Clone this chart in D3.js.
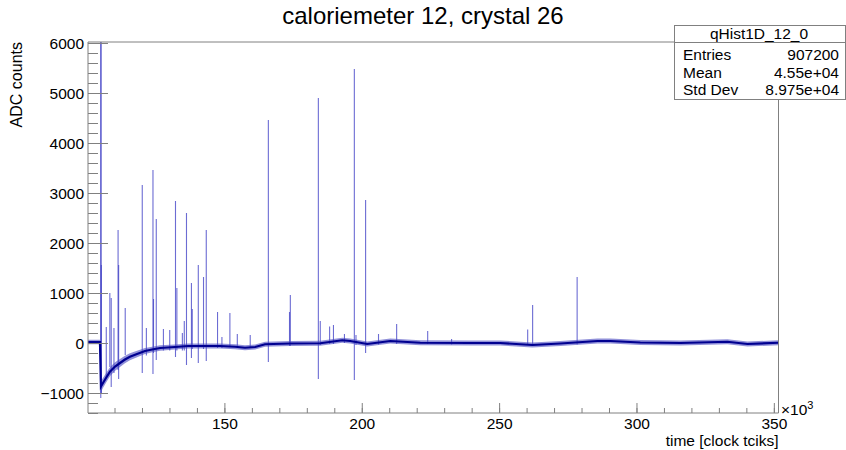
<!DOCTYPE html>
<html>
<head>
<meta charset="utf-8">
<script src="https://cdn.jsdelivr.net/npm/d3@7"></script>
<style>
  body { margin: 0; background: #fff; }
  svg { font-family: "Liberation Sans", Arial, sans-serif; }
</style>
</head>
<body>
<svg id="chart" width="846" height="450"></svg>
<script>
// axis ticks (time in units of 10^3 clock ticks)
var xMajor = [150, 200, 250, 300, 350];
var xMinor = d3.range(110, 351, 10);
var yMajor = [-1000, 0, 1000, 2000, 3000, 4000, 5000, 6000];
var yMinor = d3.range(-1400, 6001, 200);

// baseline of the histogram: time, centre, half band width
var baseX = [100.35, 104.7, 105.05, 105.8, 106.9, 108.4, 110.2, 112.0, 113.8, 115.6, 118.2, 121.1, 123.7, 126.6, 132.0, 136.8, 141.2, 148.4, 153.9, 157.5, 161.2, 164.8, 174.0, 184.9, 192.9, 195.8, 202.0, 210.4, 221.3, 239.5, 250.4, 262.1, 272.3, 285.8, 290.5, 301.4, 316.0, 333.1, 340.4, 351.7];
var baseY = [20, 20, -870, -800, -700, -570, -470, -400, -330, -275, -220, -160, -130, -100, -80, -60, -60, -60, -75, -95, -80, -25, -10, -5, 55, 40, -20, 40, 5, 0, 0, -40, -10, 40, 40, 10, 0, 25, -20, 5];
var baseW = [45, 45, 110, 100, 95, 90, 85, 80, 75, 70, 65, 60, 55, 55, 50, 50, 50, 50, 50, 50, 50, 50, 50, 50, 50, 50, 50, 50, 50, 50, 50, 50, 50, 50, 50, 50, 50, 50, 50, 50];

// single-bin spikes: time, upper and lower ADC value
var spikeX  = [105.0, 105.1, 105.2, 107.0, 108.3, 108.8, 109.8, 111.3, 111.5, 113.9, 120.1, 121.6, 124.0, 124.2, 125.2, 127.8, 130.1, 132.2, 132.7, 134.7, 135.4, 136.2, 138.0, 138.3, 140.5, 142.4, 143.4, 147.5, 149.1, 152.0, 154.7, 159.4, 166.0, 173.7, 174.0, 184.2, 184.9, 188.3, 189.7, 193.7, 197.3, 197.9, 201.4, 206.1, 212.7, 224.0, 232.7, 260.4, 262.2, 278.4];
var spikeHi = [6100, 6100, 1560, 320, 1000, 900, 300, 2260, 1560, 700, 3160, 300, 3460, 880, 2480, 280, 260, 2840, 1100, 200, 440, 2600, 1200, 680, 1560, 1320, 2260, 620, 120, 600, 180, 160, 4460, 620, 960, 4900, 440, 330, 360, 180, 5480, 160, 2860, 180, 380, 240, 80, 270, 760, 1320];
var spikeLo = [-1100, -1000, -1000, -700, -480, -880, -600, -540, -720, -240, -600, -250, -620, -200, -340, -150, -150, -280, -150, -150, -150, -440, -300, -120, -400, -120, -360, -100, -100, -80, -80, -80, -380, -60, -60, -720, -40, -20, -20, 0, -740, -40, -200, -30, -20, -20, -30, -30, -40, -30];

var svg = d3.select('#chart');
var frame = { left: 88, right: 778.5, top: 42, bottom: 413 };

var x = d3.scaleLinear().domain([100.35, 351.7]).range([frame.left, frame.right]);
var y = d3.scaleLinear().domain([-1400, 6020]).range([frame.bottom, frame.top]);

svg.append('clipPath').attr('id', 'plotclip')
    .append('rect')
    .attr('x', frame.left).attr('y', frame.top)
    .attr('width', frame.right - frame.left).attr('height', frame.bottom - frame.top);

var plot = svg.append('g').attr('clip-path', 'url(#plotclip)');

var base = baseX.map((d, i) => ({ x: d, y: baseY[i], w: baseW[i] }));

// spikes
plot.selectAll('line.spike')
    .data(spikeX.map((d, i) => ({ x: d, hi: spikeHi[i], lo: spikeLo[i] })))
    .enter()
    .append('line')
    .attr('class', 'spike')
    .attr('x1', d => x(d.x)).attr('x2', d => x(d.x))
    .attr('y1', d => y(d.hi)).attr('y2', d => y(d.lo))
    .style('stroke', '#3b3bc4')
    .style('stroke-opacity', 0.75)
    .style('stroke-width', 1.1);

// noise band and histogram line
plot.append('path')
    .datum(base)
    .attr('d', d3.area().x(d => x(d.x)).y0(d => y(d.y - d.w)).y1(d => y(d.y + d.w)))
    .attr('fill', '#4848c0')
    .attr('fill-opacity', 0.6);

plot.append('path')
    .datum(base)
    .attr('d', d3.line().x(d => x(d.x)).y(d => y(d.y)))
    .attr('fill', 'none')
    .style('stroke', '#000090')
    .style('stroke-width', 2.2);

// axes
var gx = svg.append('g').attr('transform', 'translate(0,' + frame.bottom + ')');
gx.call(d3.axisBottom(x).tickValues(xMinor).tickSize(-5).tickFormat(''));
gx.append('g').call(d3.axisBottom(x).tickValues(xMajor).tickSize(-10).tickPadding(5).tickFormat(d3.format('d')));

var gy = svg.append('g').attr('transform', 'translate(' + frame.left + ',0)');
gy.call(d3.axisLeft(y).tickValues(yMinor).tickSize(-10).tickFormat(''));
gy.append('g').call(d3.axisLeft(y).tickValues(yMajor).tickSize(-20).tickPadding(-15)
    .tickFormat(d => d < 0 ? '\u2212' + Math.abs(d) : d));

svg.selectAll('.domain').remove();
svg.selectAll('.tick line').style('stroke', '#808080');
svg.selectAll('.tick text').style('font-size', '15.5px').style('fill', '#000')
    .style('font-family', '"Liberation Sans", Arial, sans-serif');
gy.selectAll('.tick text').attr('x', -4).attr('dy', '0.35em');

// frame
svg.append('path')
    .attr('d', 'M' + frame.left + ',' + frame.top + 'H674.5 M778.5,99.5 V' + frame.bottom + ' H' + frame.left + ' V' + frame.top)
    .attr('fill', 'none')
    .style('stroke', '#808080')
    .style('stroke-width', 1);

// titles
svg.append('text')
    .attr('x', 423).attr('y', 24)
    .attr('text-anchor', 'middle')
    .style('font-size', '24px')
    .text('caloriemeter 12, crystal 26');

svg.append('text')
    .attr('transform', 'translate(22,42) rotate(-90)')
    .attr('text-anchor', 'end')
    .style('font-size', '16px')
    .text('ADC counts');

svg.append('text')
    .attr('x', frame.right).attr('y', 446)
    .attr('text-anchor', 'end')
    .style('font-size', '15.5px')
    .text('time [clock tciks]');

var mult = svg.append('text').attr('x', 781).attr('y', 415).style('font-size', '15.5px');
mult.append('tspan').text('\u00d710');
mult.append('tspan').attr('dy', -6).style('font-size', '11px').text('3');

// stats box
var stats = [['Entries', '907200'], ['Mean', '4.55e+04'], ['Std Dev', '8.975e+04']];
var box = svg.append('g');
box.append('rect')
    .attr('x', 674.5).attr('y', 25.5).attr('width', 171).attr('height', 74)
    .attr('fill', '#fff').style('stroke', '#808080');
box.append('line')
    .attr('x1', 674.5).attr('x2', 845.5).attr('y1', 42.5).attr('y2', 42.5)
    .style('stroke', '#808080');
box.append('text')
    .attr('x', 759).attr('y', 39)
    .attr('text-anchor', 'middle')
    .style('font-size', '15.5px')
    .text('qHist1D_12_0');
box.selectAll('text.lab')
    .data(stats).enter()
    .append('text').attr('class', 'lab')
    .attr('x', 683).attr('y', (d, i) => 60 + i * 17.5)
    .style('font-size', '15.5px')
    .text(d => d[0]);
box.selectAll('text.val')
    .data(stats).enter()
    .append('text').attr('class', 'val')
    .attr('x', 839).attr('y', (d, i) => 60 + i * 17.5)
    .attr('text-anchor', 'end')
    .style('font-size', '15.5px')
    .text(d => d[1]);
</script>
</body>
</html>
